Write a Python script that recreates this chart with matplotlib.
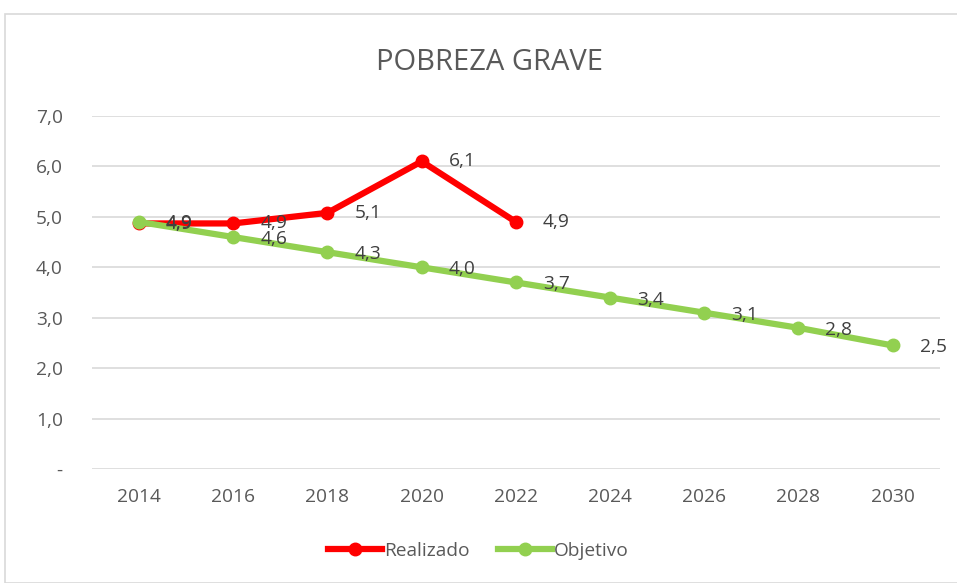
import matplotlib.pyplot as plt
from matplotlib.patches import Rectangle

years = ['2014', '2016', '2018', '2020', '2022', '2024', '2026', '2028', '2030']
realizado = [4.87, 4.87, 5.08, 6.1, 4.9]
objetivo = [4.9, 4.6, 4.3, 4.0, 3.7, 3.4, 3.1, 2.8, 2.45]
yticks = [0, 1, 2, 3, 4, 5, 6, 7]
ytick_labels = ['-', '1,0', '2,0', '3,0', '4,0', '5,0', '6,0', '7,0']

plt.rcParams['font.family'] = ['Open Sans', 'DejaVu Sans']
txt = '#595959'
fs = 13.8

fig = plt.figure(figsize=(9.57, 5.83), dpi=100)
ax = fig.add_axes([0.0961, 0.1955, 0.8859, 0.6055])

# chart border
fig.patches.append(Rectangle((5/957, 0), 1.0, 1 - 14/583, transform=fig.transFigure,
                             fill=False, edgecolor='#d9d9d9', linewidth=1.2))

x_all = list(range(len(years)))
ax.plot(x_all[:len(realizado)], realizado, color='#FF0000', linewidth=4.5, marker='o',
        markersize=9, label='Realizado', zorder=3)
ax.plot(x_all, objetivo, color='#92D050', linewidth=4.5, marker='o',
        markersize=9, label='Objetivo', zorder=4)

for i, v in enumerate(realizado):
    ax.annotate('{:.1f}'.format(v).replace('.', ','), (i, v), xytext=(27, 0),
                textcoords='offset pixels', ha='left', va='center', fontsize=fs,
                color='#404040', zorder=5)
for i, v in enumerate(objetivo):
    ax.annotate('{:.1f}'.format(v + 0.001).replace('.', ','), (i, v), xytext=(27, -2),
                textcoords='offset pixels', ha='left', va='center', fontsize=fs,
                color='#404040', zorder=5)

ax.set_xlim(-0.5, len(years) - 0.5)
ax.set_ylim(0, 7)
ax.set_xticks(x_all)
ax.set_xticklabels(years)
ax.set_yticks(yticks)
ax.set_yticklabels(ytick_labels)
ax.tick_params(length=0, labelsize=fs, colors=txt)
ax.tick_params(axis='x', pad=14)
ax.tick_params(axis='y', pad=21)
ax.grid(axis='y', color='#d9d9d9', linewidth=1.2)
ax.set_axisbelow(True)
for s in ax.spines.values():
    s.set_visible(False)

fig.text(0.512, 1 - 63/583, 'POBREZA GRAVE', ha='center', va='center', fontsize=21, color=txt)

ax.legend(loc='center', bbox_to_anchor=(0.5, 1 - 551/583), bbox_transform=fig.transFigure,
          ncol=2, frameon=False, fontsize=fs, labelcolor=txt, handlelength=2.8,
          handletextpad=0.1, columnspacing=1.5)

fig.savefig('out.png', dpi=100)
